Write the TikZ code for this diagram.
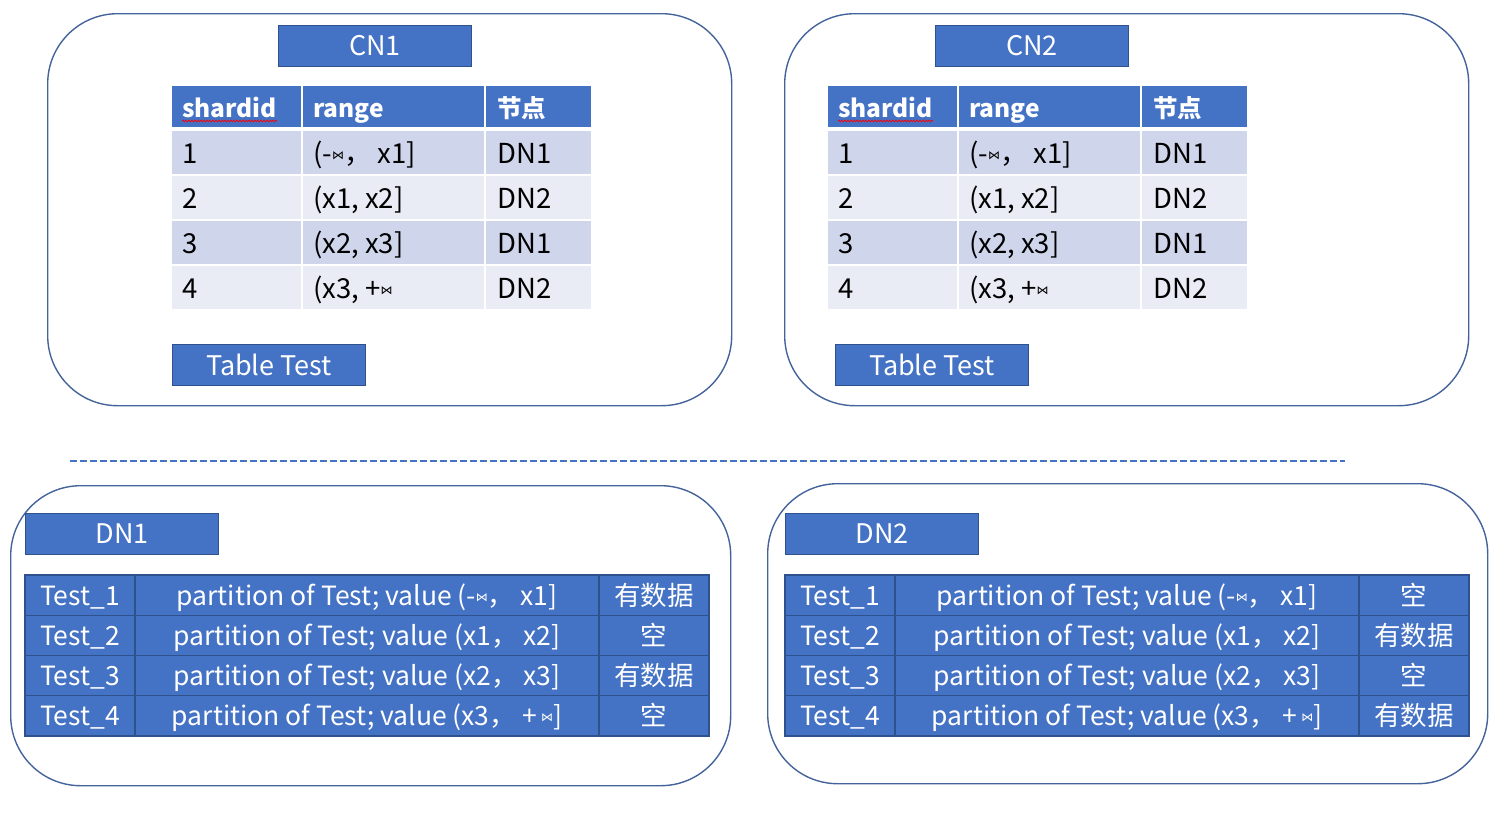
\documentclass[tikz,border=0pt]{standalone}
\usepackage{fontspec}
\setmainfont{Noto Sans CJK SC}
\newfontfamily\symf{DejaVu Sans}
\usetikzlibrary{decorations.pathmorphing}
\definecolor{bm}{HTML}{4472C4}
\definecolor{bd}{HTML}{2F528F}
\definecolor{ro}{HTML}{CFD5EA}
\definecolor{re}{HTML}{E9EBF5}
\newcommand{\bt}{\raisebox{4pt}{\symf\fontsize{12}{12}\selectfont ⋈}}
\begin{document}
\begin{tikzpicture}[x=1pt,y=-1pt,
  outer/.style={draw=bd!90, line width=1.4pt, rounded corners=70pt, anchor=north west, inner sep=0pt},
  lbl/.style={draw=bd, fill=bm, line width=1pt, text=white, anchor=north west, inner sep=0pt,
    minimum width=193pt, minimum height=41pt, font=\fontsize{27}{27}\selectfont},
  hd/.style={anchor=base west, inner sep=0pt, text=white, font=\bfseries\fontsize{24.5}{24.5}\selectfont},
  ct/.style={anchor=base west, inner sep=0pt, text=black, font=\fontsize{27.5}{27.5}\selectfont},
  dt/.style={anchor=base, inner sep=0pt, text=white, font=\fontsize{26.5}{26.5}\selectfont},
  grid/.style={draw=bd, line width=1.2pt}
]
\useasboundingbox (0,0) rectangle (1500,830);

% ---------- CN panels ----------
\foreach \p/\ox/\lx/\tx/\ttx in {1/47/278/172/172, 2/784/935/828/835}{
  \node[outer, minimum width=684pt, minimum height=392pt] (cn\p) at (\ox,13) {};
  \node[lbl] (cn\p l) at (\lx,25) {CN\p};
  \fill[bm] (\tx,86) rectangle ++(129,41);
  \fill[bm] (\tx+131,86) rectangle ++(181,41);
  \fill[bm] (\tx+314,86) rectangle ++(105,41);
  \node[hd] (cn\p h1) at (\tx+10,117) {shardid};
  \node[hd] (cn\p h2) at (\tx+141,117) {range};
  \node[hd] (cn\p h3) at (\tx+325,117) {节点};
  \draw[red, line width=0.7pt, decorate, decoration={snake, amplitude=0.9pt, segment length=3pt}]
    ([yshift=-4pt]cn\p h1.base west) -- ([yshift=-4pt]cn\p h1.base east);
  \foreach \a/\c/\b/\d [count=\k from 0] in {1/ro/{(-\bt，\ x1]}/DN1, 2/re/{(x1, x2]}/DN2, 3/ro/{(x2, x3]}/DN1, 4/re/{(x3, +\bt}/DN2}{
    \fill[\c] (\tx,131+45*\k) rectangle ++(129,43);
    \fill[\c] (\tx+131,131+45*\k) rectangle ++(181,43);
    \fill[\c] (\tx+314,131+45*\k) rectangle ++(105,43);
    \node[ct] (cn\p r\a a) at (\tx+10,163+45*\k) {\a};
    \node[ct] (cn\p r\a b) at (\tx+141,163+45*\k) {\b};
    \node[ct] (cn\p r\a c) at (\tx+325,163+45*\k) {\d};
  }
  \node[lbl] (cn\p t) at (\ttx,344) {Table Test};
}

% ---------- dashed separator ----------
\coordinate (sepl) at (70,461);
\coordinate (sepr) at (1345,461);
\draw[bm, line width=1.6pt, dash pattern=on 7pt off 3pt] (sepl) -- (sepr);

% ---------- DN panels ----------
\foreach \p/\ox/\oy/\lx/\sa/\sb/\sc/\sd in {1/10/485/25/有数据/空/有数据/空, 2/767/483/785/空/有数据/空/有数据}{
  \node[outer, minimum width=720pt, minimum height=300pt] (dn\p) at (\ox,\oy) {};
  \node[lbl] (dn\p l) at (\lx,513) {DN\p};
  \fill[bm] (\lx,575) rectangle ++(684,161);
  \foreach \k in {1,2,3} \draw[grid] (\lx,575+40.25*\k) -- ++(684,0);
  \draw[grid] (\lx+110,575) -- ++(0,161);
  \draw[grid] (\lx+574,575) -- ++(0,161);
  \draw[grid] (\lx,575) rectangle ++(684,161);
  \foreach \a/\b/\d [count=\k from 0] in {1/{(-\bt，\ x1]}/\sa, 2/{(x1，\ x2]}/\sb, 3/{(x2，\ x3]}/\sc, 4/{(x3，\ +\,\bt]}/\sd}{
    \node[dt] (dn\p r\a a) at (\lx+55,605+40.25*\k) {Test\_\a};
    \node[dt] (dn\p r\a b) at (\lx+342,605+40.25*\k) {partition of Test; value \b};
    \node[dt] (dn\p r\a c) at (\lx+629,605+40.25*\k) {\d};
  }
}
\end{tikzpicture}
\end{document}
